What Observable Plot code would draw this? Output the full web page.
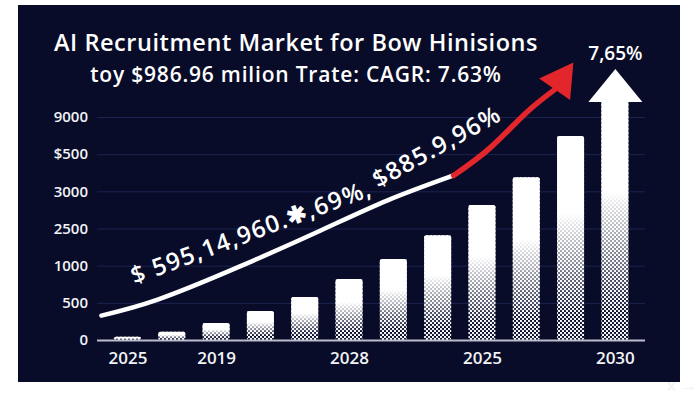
<!DOCTYPE html>
<html>
<head>
<meta charset="utf-8">
<script src="https://cdn.jsdelivr.net/npm/d3@7"></script>
<script src="https://cdn.jsdelivr.net/npm/@observablehq/plot@0.6"></script>
<style>
  html, body { margin: 0; padding: 0; background: #ffffff; }
  #wrap { position: relative; width: 700px; height: 393px; overflow: hidden; background: #ffffff; font-family: "Open Sans", sans-serif; }
  #panel { position: absolute; left: 18px; top: 5px; width: 662px; height: 377px; background: #080c28; }
  .ttl { position: absolute; left: 0; width: 592px; text-align: center; color: #ffffff; font-weight: 600; white-space: nowrap; }
  #title { top: 28px; font-size: 23.5px; line-height: 28px; letter-spacing: 0.55px; }
  #subtitle { top: 61px; font-size: 21px; line-height: 26px; letter-spacing: 0.8px; }
  #chart { position: absolute; left: 0; top: 0; }
</style>
</head>
<body>
<svg width="0" height="0" style="position:absolute">
  <defs>
    <pattern id="halftone" patternUnits="userSpaceOnUse" width="4" height="4">
      <circle cx="1" cy="1" r="1.15" fill="#ffffff"></circle>
      <circle cx="3" cy="3" r="1.15" fill="#ffffff"></circle>
    </pattern>
    <linearGradient id="fadeWhite" x1="0" y1="0" x2="0" y2="1">
      <stop offset="0" stop-color="#ffffff" stop-opacity="1"></stop>
      <stop offset="0.38" stop-color="#ffffff" stop-opacity="1"></stop>
      <stop offset="0.88" stop-color="#ffffff" stop-opacity="0"></stop>
    </linearGradient>
  </defs>
</svg>
<div id="wrap">
  <div id="panel"></div>
  <div id="chart"></div>
  <div id="title" class="ttl">AI Recruitment Market for Bow Hinisions</div>
  <div id="subtitle" class="ttl">toy $986.96 milion Trate: CAGR: 7.63%</div>
</div>
<script>
// ---- data ----
const barIndex = [0, 1, 2, 3, 4, 5, 6, 7, 8, 9, 10, 11];
const barValues = [0.09, 0.22, 0.46, 0.78, 1.16, 1.64, 2.18, 2.82, 3.63, 4.38, 5.49, 6.45];
const yTickPos = [0, 1, 2, 3, 4, 5, 6];
const yTickLabels = ["0", "500", "1000", "2500", "3000", "$500", "9000"];
const xTickPos = [0, 2, 5, 8, 11];
const xTickLabels = ["2025", "2019", "2028", "2025", "2030"];
const trendX = [-0.6, 0.67, 2.5, 4.35, 5.86, 7.35];
const trendY = [0.67, 1.1, 1.98, 2.96, 3.77, 4.44];
const redX = [7.35, 8.18, 8.97, 9.63];
const redY = [4.44, 5.19, 6.11, 6.75];
const redHeadX = [9.77];
const redHeadY = [7.0];
const whiteHeadX = [11];
const whiteHeadY = [6.42];
const growthLabel = ["7,65%"];
const growthLabelX = [11];
const growthLabelY = [7.72];
const curveLabels = ["$ 595,14,960.\u2731,69%,", "$885.9,96%"];
const curveLabelX = [0.147, 5.65];
const curveLabelY = [1.505, 4.09];
const curveLabelAngle = [-20.5, -29];

// ---- tables built from the arrays ----
const bars = barIndex.map((i, k) => ({i, v: barValues[k]}));
const trend = trendX.map((x, k) => ({x, y: trendY[k]}));
const red = redX.map((x, k) => ({x, y: redY[k]}));
const redHead = redHeadX.map((x, k) => ({x, y: redHeadY[k]}));
const whiteHead = whiteHeadX.map((x, k) => ({x, y: whiteHeadY[k]}));
const growth = growthLabel.map((t, k) => ({t, x: growthLabelX[k], y: growthLabelY[k]}));
const curveText = curveLabels.map((t, k) => ({t, x: curveLabelX[k], y: curveLabelY[k], a: curveLabelAngle[k]}));

const wideTriangle = {
  draw(ctx) { ctx.moveTo(0, -33); ctx.lineTo(27, 0); ctx.lineTo(-27, 0); ctx.closePath(); }
};
const halfW = 0.305;

const plot = Plot.plot({
  width: 700,
  height: 393,
  marginLeft: 97,
  marginRight: 55,
  marginTop: 117,
  marginBottom: 53,
  style: {background: "transparent", color: "#f2f3f7", fontFamily: "'Open Sans', sans-serif"},
  x: {type: "linear", domain: [-0.688, 11.68]},
  y: {type: "linear", domain: [0, 6]},
  marks: [
    Plot.gridY(yTickPos, {stroke: "#1c2452", strokeOpacity: 1, strokeWidth: 1}),
    Plot.axisY(yTickPos, {tickSize: 0, tickPadding: 9.5, tickFormat: d => yTickLabels[d], fontSize: 15, fontWeight: 600, fill: "#f2f3f7"}),
    Plot.axisX(xTickPos, {tickSize: 0, tickPadding: 11, tickFormat: d => xTickLabels[xTickPos.indexOf(d)], fontSize: 17, fontWeight: 600, fill: "#f2f3f7"}),
    Plot.rect(bars, {x1: d => d.i - halfW, x2: d => d.i + halfW, y1: 0, y2: "v", fill: "url(#halftone)", rx: 2}),
    Plot.rect(bars, {x1: d => d.i - halfW, x2: d => d.i + halfW, y1: 0, y2: "v", fill: "url(#fadeWhite)", rx: 2}),
    Plot.ruleY([0], {stroke: "#b9bccb", strokeWidth: 2}),
    Plot.line(trend, {x: "x", y: "y", stroke: "#ffffff", strokeWidth: 4.5, curve: "natural"}),
    Plot.line(red, {x: "x", y: "y", stroke: "#e3262b", strokeWidth: 5.5, curve: "natural"}),
    Plot.dot(redHead, {x: "x", y: "y", symbol: "triangle", r: 14, rotate: 35, fill: "#e3262b", stroke: null}),
    Plot.dot(whiteHead, {x: "x", y: "y", symbol: wideTriangle, fill: "#ffffff", stroke: null}),
    Plot.text(growth, {x: "x", y: "y", text: "t", fontSize: 19, fontWeight: 600, fill: "#ffffff"}),
    Plot.text(curveText, {x: "x", y: "y", text: "t", rotate: "a", textAnchor: "start", lineAnchor: "bottom", fontSize: 24, fontWeight: 600, fill: "#ffffff"})
  ]
});
document.getElementById("chart").appendChild(plot);

// widen the tracking of the curved label a little, as in the picture
d3.select(plot).selectAll("text")
  .filter(function () { return curveLabels.includes(this.textContent); })
  .attr("letter-spacing", "1.3px");
</script>
</body>
</html>
